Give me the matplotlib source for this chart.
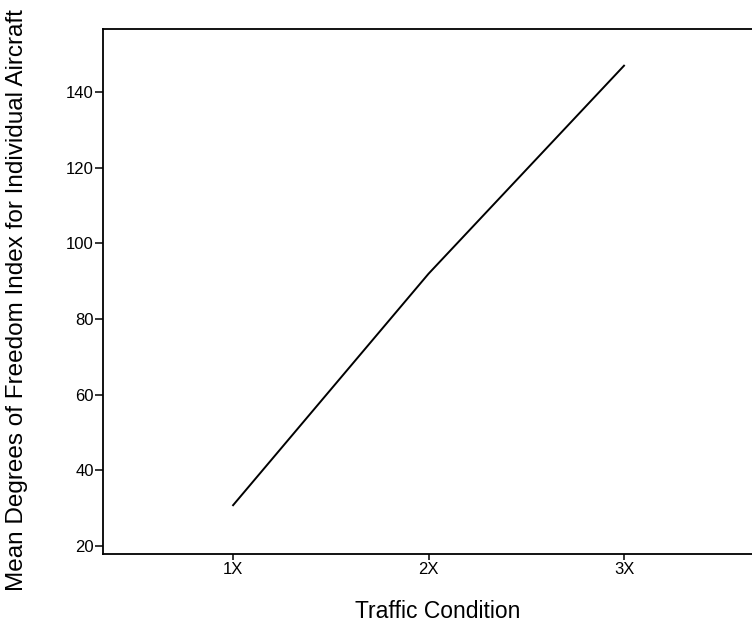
import matplotlib
matplotlib.use('Agg')
import matplotlib.pyplot as plt

# data
conditions = ['1X', '2X', '3X']
positions = [1, 2, 3]
mean_dof = [30.8, 92.0, 147.0]

plt.rcParams['font.family'] = ['Liberation Sans', 'DejaVu Sans']

fig = plt.figure(figsize=(7.52, 6.24), dpi=100)
# right spine lies just past the image edge in the reference
ax_w = 753.6 - 103.5
ax_h = 554 - 29
ax = fig.add_axes([103.5 / 752, 70 / 624, ax_w / 752, ax_h / 624])

ax.plot(positions, mean_dof, color='black', linewidth=1.4)

ax.set_xlim(0.337, 3.663)
ax.set_ylim(17.9, 156.7)
ax.set_xticks(positions)
ax.set_xticklabels(conditions)
ax.set_yticks([20, 40, 60, 80, 100, 120, 140])

ax.spines['right'].set_visible(False)
for s in ['left', 'top', 'bottom']:
    ax.spines[s].set_linewidth(1.3)

ax.tick_params(axis='y', direction='out', length=6, width=1.1, labelsize=12, pad=1)
ax.tick_params(axis='x', direction='out', length=4, width=1.1, labelsize=12, pad=2)

ax.set_xlabel('Traffic Condition', fontsize=16.5)
ax.set_ylabel('Mean Degrees of Freedom Index for Individual Aircraft', fontsize=17.5)
ax.xaxis.label.set_verticalalignment('center')
ax.yaxis.label.set_verticalalignment('center')
# label centres in pixels, converted to axes fractions
ax.xaxis.set_label_coords((438 - 103.5) / ax_w, -(611 - 554) / ax_h)
ax.yaxis.set_label_coords(-(103.5 - 17) / ax_w, (554 - 300) / ax_h)

plt.savefig('out.png', dpi=100)
